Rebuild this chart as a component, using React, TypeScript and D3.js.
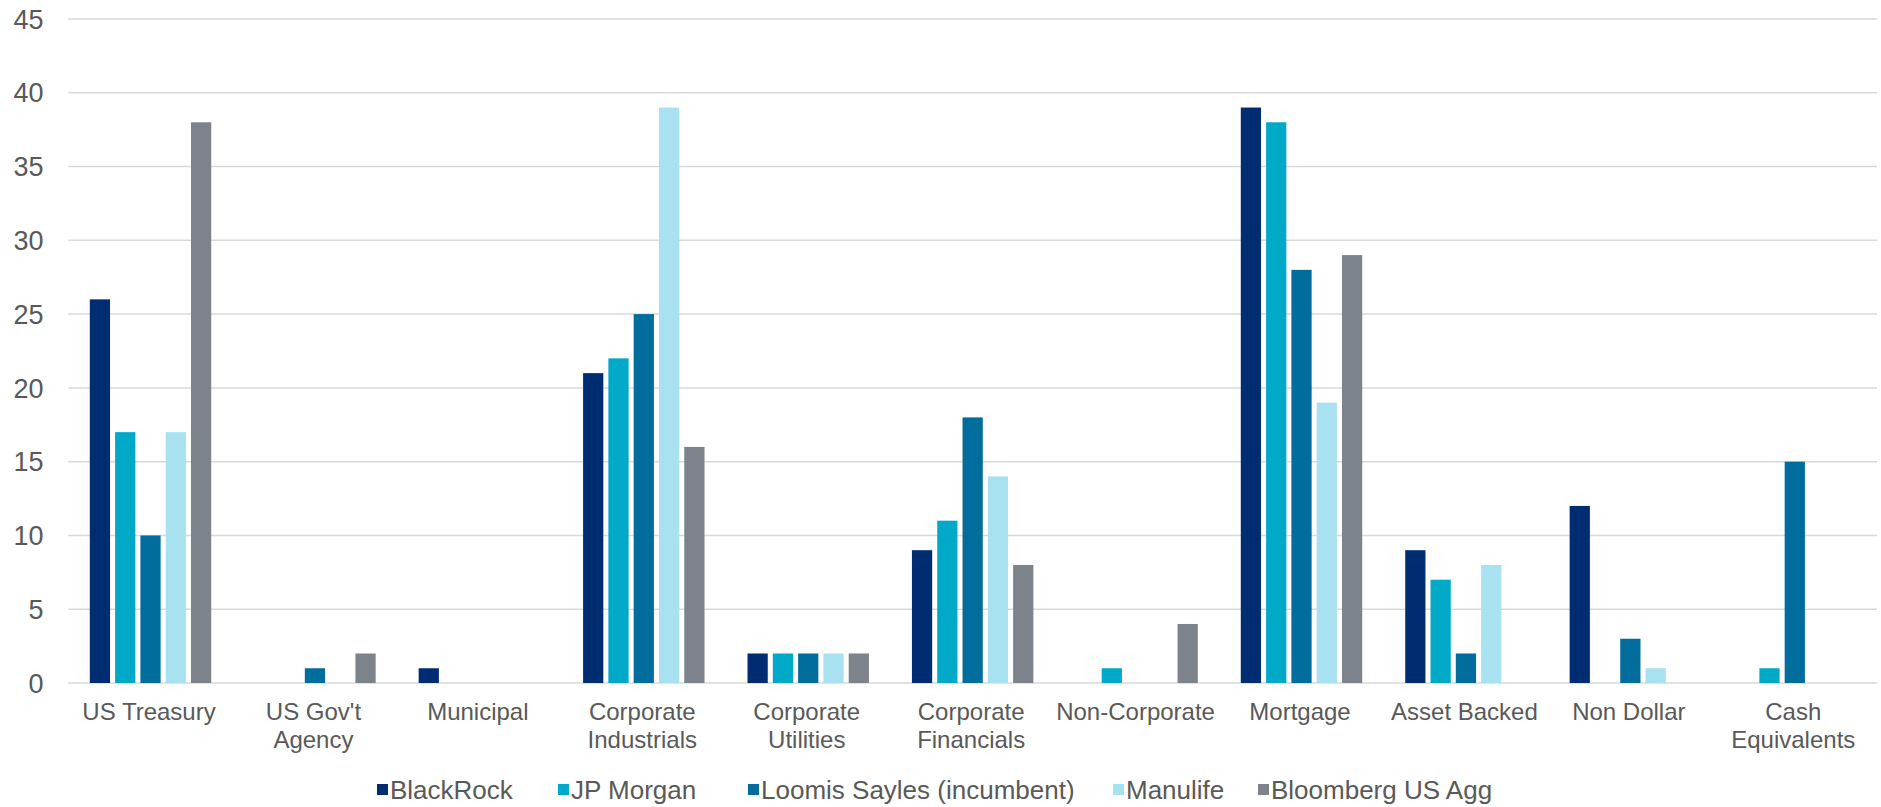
import React from "react";
import * as d3 from "d3";

const categories: string[][] = [
  ["US Treasury"],
  ["US Gov't", "Agency"],
  ["Municipal"],
  ["Corporate", "Industrials"],
  ["Corporate", "Utilities"],
  ["Corporate", "Financials"],
  ["Non-Corporate"],
  ["Mortgage"],
  ["Asset Backed"],
  ["Non Dollar"],
  ["Cash", "Equivalents"],
];

const seriesNames = [
  "BlackRock",
  "JP Morgan",
  "Loomis Sayles (incumbent)",
  "Manulife",
  "Bloomberg US Agg",
];

const blackRock = [26, 0, 1, 21, 2, 9, 0, 39, 9, 12, 0];
const jpMorgan = [17, 0, 0, 22, 2, 11, 1, 38, 7, 0, 1];
const loomisSayles = [10, 1, 0, 25, 2, 18, 0, 28, 2, 3, 15];
const manulife = [17, 0, 0, 39, 2, 14, 0, 19, 8, 1, 0];
const bloombergAgg = [38, 2, 0, 16, 2, 8, 4, 29, 0, 0, 0];

const yTicks = [0, 5, 10, 15, 20, 25, 30, 35, 40, 45];

const seriesValues = [blackRock, jpMorgan, loomisSayles, manulife, bloombergAgg];
const colors = ["#002D72", "#00A9C8", "#006D9C", "#A8E1EF", "#7C838A"];

const W = 1881;
const H = 807;
const plotLeft = 68.3;
const plotRight = 1877;
const plotTop = 19;
const plotBottom = 683;
const textColor = "#595959";
const font = "'Liberation Sans', Arial, sans-serif";

const legendX = [377, 558, 748, 1113, 1258];

export default function App() {
  const catKeys = categories.map((c) => c.join(" "));
  const x0 = d3.scaleBand<string>().domain(catKeys).range([plotLeft, plotRight]).padding(0);
  const x1 = d3
    .scaleBand<string>()
    .domain(seriesNames)
    .range([0, x0.bandwidth()])
    .paddingInner(0.2)
    .paddingOuter(0.85);
  const y = d3.scaleLinear().domain([0, 45]).range([plotBottom, plotTop]);

  return (
    <svg
      width={W}
      height={H}
      style={{ position: "absolute", left: 0, top: 0, fontFamily: font }}
    >
      <rect x={0} y={0} width={W} height={H} fill="#ffffff" />
      {yTicks.map((t) => (
        <g key={t}>
          <line
            x1={plotLeft}
            x2={plotRight}
            y1={y(t)}
            y2={y(t)}
            stroke="#D9D9D9"
            strokeWidth={1.5}
          />
          <text
            x={43.5}
            y={y(t)}
            dy="0.36em"
            textAnchor="end"
            fontSize={27}
            fill={textColor}
          >
            {t}
          </text>
        </g>
      ))}
      {seriesValues.map((vals, si) => (
        <g key={seriesNames[si]} fill={colors[si]}>
          {vals.map((v, ci) =>
            v > 0 ? (
              <rect
                key={ci}
                x={(x0(catKeys[ci]) ?? 0) + (x1(seriesNames[si]) ?? 0)}
                y={y(v)}
                width={x1.bandwidth()}
                height={y(0) - y(v)}
              />
            ) : null
          )}
        </g>
      ))}
      {categories.map((lines, ci) => (
        <text
          key={ci}
          x={(x0(catKeys[ci]) ?? 0) + x0.bandwidth() / 2 - 1.5}
          y={720}
          textAnchor="middle"
          fontSize={24}
          fill={textColor}
        >
          {lines.map((l, li) => (
            <tspan
              key={li}
              x={(x0(catKeys[ci]) ?? 0) + x0.bandwidth() / 2 - 1.5}
              dy={li === 0 ? 0 : 27.5}
            >
              {l}
            </tspan>
          ))}
        </text>
      ))}
      {seriesNames.map((name, si) => (
        <g key={name}>
          <rect x={legendX[si]} y={784} width={11} height={11} fill={colors[si]} />
          <text x={legendX[si] + 13} y={799} fontSize={26} fill={textColor}>
            {name}
          </text>
        </g>
      ))}
    </svg>
  );
}
